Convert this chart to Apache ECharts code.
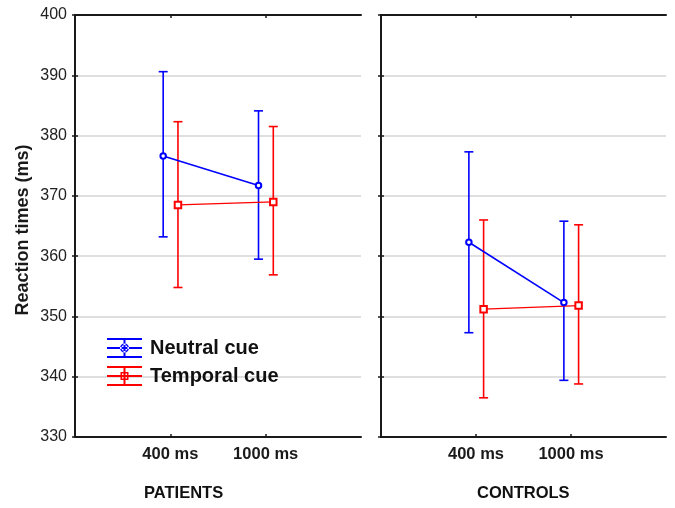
<!DOCTYPE html>
<html>
<head>
<meta charset="utf-8">
<script src="https://cdn.jsdelivr.net/npm/echarts@6/dist/echarts.min.js"></script>
<style>
html,body{margin:0;padding:0;background:#fff;}
#chart{width:675px;height:508px;}
</style>
</head>
<body>
<div id="chart"></div>
<script>
// ---- data ----
var categories = ['400 ms', '1000 ms'];
var groups = ['PATIENTS', 'CONTROLS'];
var cueNames = ['Neutral cue', 'Temporal cue'];
var yTicks = [330, 340, 350, 360, 370, 380, 390, 400];

var patientsNeutralMean  = [376.6, 371.7];
var patientsNeutralUpper = [390.6, 384.1];
var patientsNeutralLower = [363.2, 359.5];
var patientsTemporalMean  = [368.5, 369.0];
var patientsTemporalUpper = [382.3, 381.5];
var patientsTemporalLower = [354.8, 356.9];

var controlsNeutralMean  = [362.3, 352.3];
var controlsNeutralUpper = [377.3, 365.8];
var controlsNeutralLower = [347.3, 339.4];
var controlsTemporalMean  = [351.2, 351.8];
var controlsTemporalUpper = [366.0, 365.2];
var controlsTemporalLower = [336.5, 338.8];

// ---- layout / style ----
var BLUE = '#0000ff', RED = '#ff0000';
var FONT = 'Liberation Sans, Arial, sans-serif';
var panelData = [
  [
    {mean: patientsNeutralMean, upper: patientsNeutralUpper, lower: patientsNeutralLower},
    {mean: patientsTemporalMean, upper: patientsTemporalUpper, lower: patientsTemporalLower}
  ],
  [
    {mean: controlsNeutralMean, upper: controlsNeutralUpper, lower: controlsNeutralLower},
    {mean: controlsTemporalMean, upper: controlsTemporalUpper, lower: controlsTemporalLower}
  ]
];
var cueColors = [BLUE, RED];
var cueSymbols = ['emptyCircle', 'emptyRect'];
var cueOffsets = [-0.075, 0.08];

var grids = [
  {left: 75, right: 314, top: 15, bottom: 71},
  {left: 381, right: 9, top: 15, bottom: 71}
];

var xAxes = [], yAxes = [], series = [];
grids.forEach(function (g, gi) {
  xAxes.push({
    type: 'value', gridIndex: gi, min: 0, max: 3, interval: 1, position: 'bottom',
    axisLine: {show: true, lineStyle: {color: '#1a1a1a', width: 2}},
    axisTick: {show: true, inside: true, length: 3, customValues: [1, 2], lineStyle: {color: '#1a1a1a', width: 1.5}},
    axisLabel: {
      show: true, customValues: [1, 2], margin: 9,
      formatter: function (v) { return categories[Math.round(v) - 1] || ''; },
      fontFamily: FONT, fontWeight: 'bold', fontSize: 16.5, color: '#1a1a1a'
    },
    splitLine: {show: false}
  });
  xAxes.push({
    type: 'value', gridIndex: gi, min: 0, max: 3, interval: 1, position: 'top',
    axisLine: {show: true, lineStyle: {color: '#1a1a1a', width: 2}},
    axisTick: {show: true, inside: true, length: 3, customValues: [1, 2], lineStyle: {color: '#1a1a1a', width: 1.5}},
    axisLabel: {show: false},
    splitLine: {show: false}
  });
  yAxes.push({
    type: 'value', gridIndex: gi, min: 330, max: 400, interval: 10, position: 'left',
    name: gi === 0 ? 'Reaction times (ms)' : '',
    nameLocation: 'middle', nameGap: 43, nameRotate: 90,
    nameTextStyle: {fontFamily: FONT, fontWeight: 'bold', fontSize: 18, color: '#1a1a1a', padding: [0, 8, 0, 0]},
    axisLine: {show: true, lineStyle: {color: '#1a1a1a', width: 2}},
    axisTick: {show: true, inside: true, length: 3, lineStyle: {color: '#1a1a1a', width: 1.5}},
    axisLabel: {
      show: gi === 0, margin: 8, fontFamily: FONT, fontSize: 16, color: '#222',
      formatter: function (v) { return yTicks.indexOf(v) >= 0 ? String(v) : ''; }
    },
    splitLine: {show: true, lineStyle: {color: '#d4d4d4', width: 1.5}}
  });
  yAxes.push({
    type: 'value', gridIndex: gi, min: 330, max: 400, interval: 10, position: 'right',
    axisLine: {show: true, lineStyle: {color: '#1a1a1a', width: 2}},
    axisTick: {show: true, inside: true, length: 3, lineStyle: {color: '#1a1a1a', width: 1.5}},
    axisLabel: {show: false},
    splitLine: {show: false}
  });

  panelData[gi].forEach(function (d, ci) {
    var color = cueColors[ci];
    var off = cueOffsets[ci];
    series.push({
      type: 'custom',
      name: cueNames[ci],
      xAxisIndex: gi * 2, yAxisIndex: gi * 2,
      encode: {x: 0, y: [1, 2]},
      data: categories.map(function (c, k) { return [k + 1 + off, d.lower[k], d.upper[k]]; }),
      itemStyle: {color: color},
      z: 2,
      renderItem: function (params, api) {
        var x = api.value(0);
        var pLo = api.coord([x, api.value(1)]);
        var pHi = api.coord([x, api.value(2)]);
        var w = 4.5;
        var st = {stroke: color, lineWidth: 1.6};
        return {
          type: 'group',
          children: [
            {type: 'line', shape: {x1: pLo[0], y1: pLo[1], x2: pHi[0], y2: pHi[1]}, style: st},
            {type: 'line', shape: {x1: pLo[0] - w, y1: pLo[1], x2: pLo[0] + w, y2: pLo[1]}, style: st},
            {type: 'line', shape: {x1: pHi[0] - w, y1: pHi[1], x2: pHi[0] + w, y2: pHi[1]}, style: st}
          ]
        };
      }
    });
    series.push({
      type: 'line',
      name: cueNames[ci],
      xAxisIndex: gi * 2, yAxisIndex: gi * 2,
      data: categories.map(function (c, k) { return [k + 1 + off, d.mean[k]]; }),
      symbol: cueSymbols[ci],
      symbolSize: ci === 0 ? 5.5 : 6.5,
      lineStyle: {color: color, width: ci === 0 ? 1.6 : 1.2},
      itemStyle: {color: color, borderWidth: 1.5},
      z: 3
    });
  });
});

var neutralIcon = 'path://M0,0H35V2H0Z M0,18H35V20H0Z M0,9H35V11H0Z M16.5,0H18.5V20H16.5Z ' +
  'M22,10A4.5,4.5,0,1,0,13,10A4.5,4.5,0,1,0,22,10Z M20.5,10A3,3,0,1,1,14.5,10A3,3,0,1,1,20.5,10Z';
var temporalIcon = 'path://M0,0H35V2H0Z M0,18H35V20H0Z M0,9H35V11H0Z M16.5,0H18.5V20H16.5Z ' +
  'M13.5,6H21.5V14H13.5Z M15,7.5V12.5H20V7.5Z';

var chart = echarts.init(document.getElementById('chart'), null, {renderer: 'canvas'});
chart.setOption({
  animation: false,
  backgroundColor: '#fff',
  grid: grids,
  xAxis: xAxes,
  yAxis: yAxes,
  legend: {
    orient: 'vertical', left: 107, top: 338, itemGap: 8, padding: 0,
    itemWidth: 35, itemHeight: 20,
    data: [
      {name: cueNames[0], icon: neutralIcon, itemStyle: {color: BLUE}},
      {name: cueNames[1], icon: temporalIcon, itemStyle: {color: RED}}
    ],
    textStyle: {fontFamily: FONT, fontWeight: 'bold', fontSize: 20, lineHeight: 20, color: '#111', padding: [0, 0, 0, 3]},
    selectedMode: false
  },
  graphic: [
    {type: 'text', left: 185 - 41, top: 485, style: {text: groups[0], font: 'bold 16.5px ' + FONT, fill: '#111'}},
    {type: 'text', left: 525 - 48, top: 485, style: {text: groups[1], font: 'bold 16.5px ' + FONT, fill: '#111'}}
  ],
  series: series
});
</script>
</body>
</html>
